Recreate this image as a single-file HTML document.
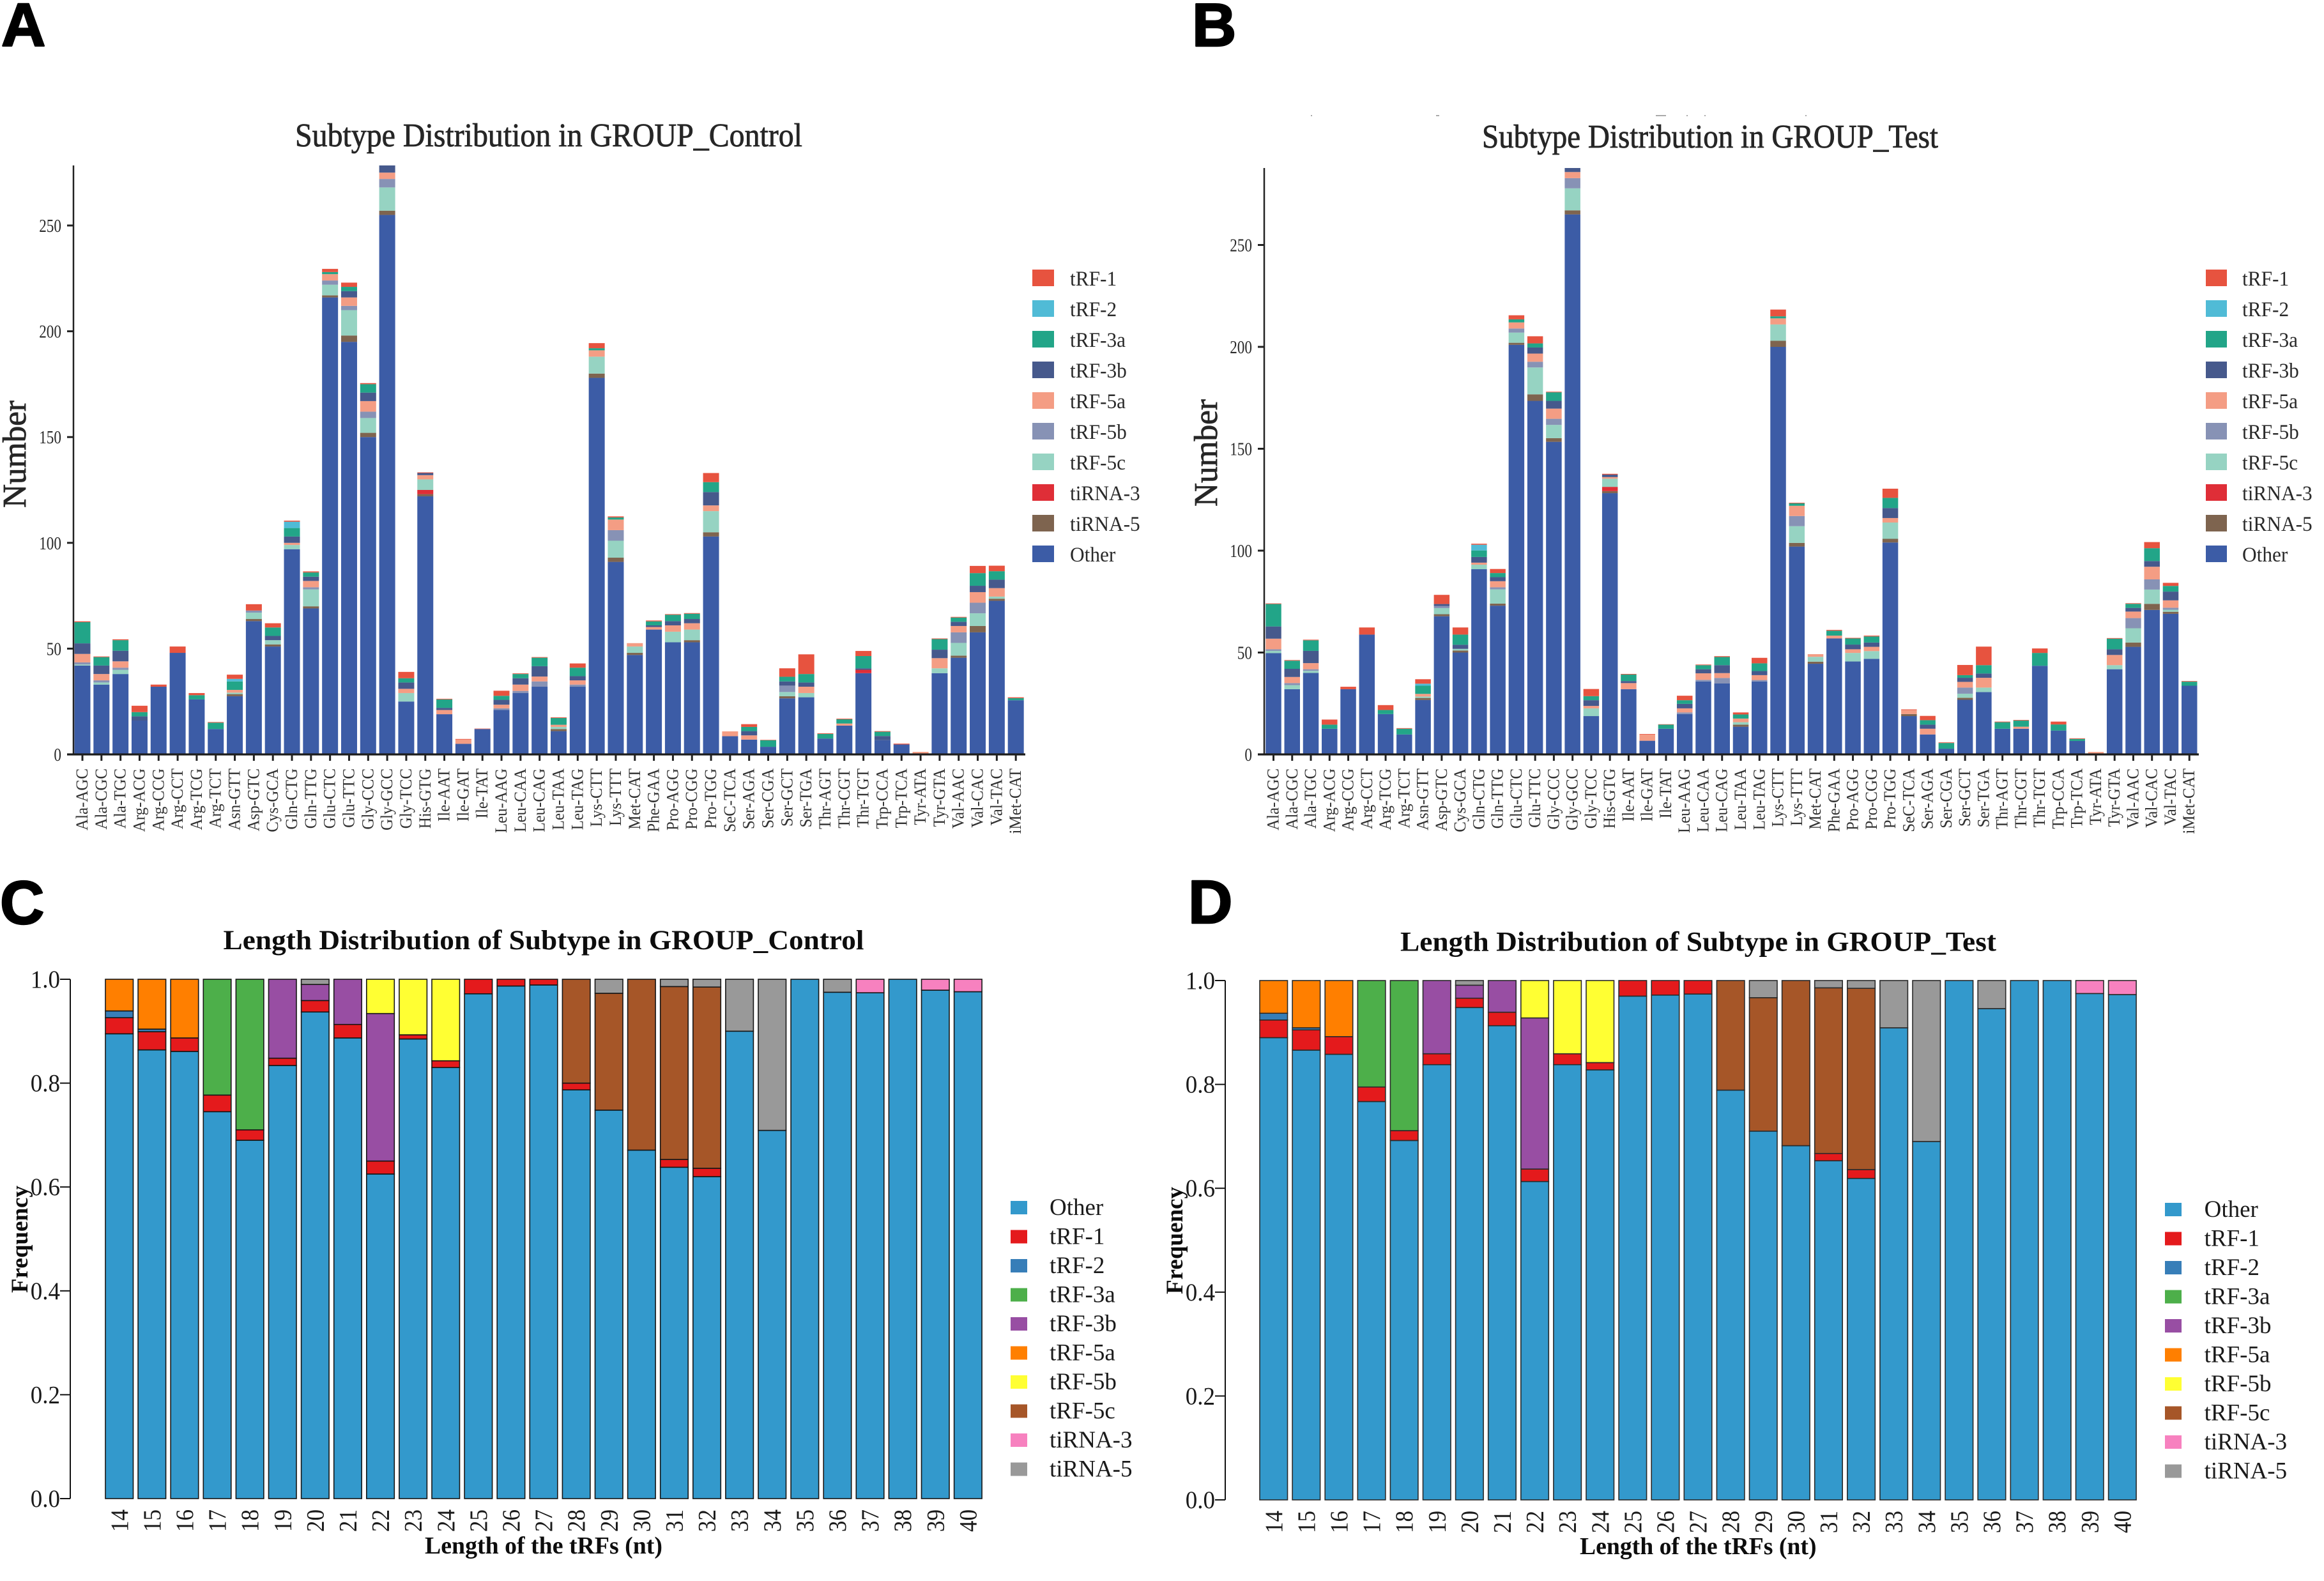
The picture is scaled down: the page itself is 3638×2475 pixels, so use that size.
<!DOCTYPE html>
<html lang="en">
<head>
<meta charset="utf-8">
<title>tRF subtype and length distribution</title>
<style>
html,body{margin:0;padding:0;background:#fff;}
svg{display:block;}
text{font-family:"Liberation Serif","Noto Serif CJK SC",serif;}
.panel-letter{font-family:"Liberation Sans","DejaVu Sans",sans-serif;font-weight:700;fill:#000;stroke:#000;stroke-width:2.5px;stroke-linejoin:round;}
</style>
</head>
<body>
<svg id="figure" xmlns="http://www.w3.org/2000/svg" width="3638" height="2475" viewBox="0 0 3638 2475">
  <rect x="0" y="0" width="3638" height="2475" fill="#ffffff"/>
  <text class="panel-letter" x="2" y="72" font-size="96">A</text>
  <text class="panel-letter" x="1866" y="72" font-size="96">B</text>
  <text class="panel-letter" x="0" y="1446" font-size="96">C</text>
  <text class="panel-letter" x="1860" y="1445" font-size="96">D</text>
  <g fill="#aaaaaa">
    <rect x="2052" y="180" width="2" height="2"/>
    <rect x="2248" y="180" width="5" height="2"/>
    <rect x="2592" y="180" width="16" height="2"/>
    <rect x="2640" y="180" width="2" height="2"/>
    <rect x="2668" y="180" width="2" height="2"/>
    <rect x="2826" y="180" width="2" height="2"/>
  </g>
  <g id="panel-a"></g>
  <g id="panel-b"></g>
  <g id="panel-c"></g>
  <g id="panel-d"></g>
</svg>
<script>
// ---------- categories and tick labels ----------
const trnaCategories = ["Ala-AGC","Ala-CGC","Ala-TGC","Arg-ACG","Arg-CCG","Arg-CCT","Arg-TCG","Arg-TCT","Asn-GTT","Asp-GTC","Cys-GCA","Gln-CTG","Gln-TTG","Glu-CTC","Glu-TTC","Gly-CCC","Gly-GCC","Gly-TCC","His-GTG","Ile-AAT","Ile-GAT","Ile-TAT","Leu-AAG","Leu-CAA","Leu-CAG","Leu-TAA","Leu-TAG","Lys-CTT","Lys-TTT","Met-CAT","Phe-GAA","Pro-AGG","Pro-CGG","Pro-TGG","SeC-TCA","Ser-AGA","Ser-CGA","Ser-GCT","Ser-TGA","Thr-AGT","Thr-CGT","Thr-TGT","Trp-CCA","Trp-TCA","Tyr-ATA","Tyr-GTA","Val-AAC","Val-CAC","Val-TAC","iMet-CAT"];
const lengthCategories = ["14","15","16","17","18","19","20","21","22","23","24","25","26","27","28","29","30","31","32","33","34","35","36","37","38","39","40"];
const countTicks = [0,50,100,150,200,250];
const freqTicks = ["0.0","0.2","0.4","0.6","0.8","1.0"];

// ---------- Panel A: subtype counts, GROUP_Control ----------
const aOther = [42,33,38,16,32,48,26,12,27.5,63,51,97,69,216,195,150,255,25,122,19,5,12,21,29,32,11,32,178,91,47,59,53,53,103,8.6,7,3.6,26.5,27,7.5,13.6,38.4,6.7,4.7,0,38.4,45.7,57.7,72.6,25.6];
const aTiRNA5 = [0,0,0,0,0,0,0,0,1,1,1,0,1,1,3,2,2,0,1,0,0,0,0,0,0,1,0,2,2,1,0,0,1,2,0,0,0,1,0,0,0,0,0,0,0,0,1,3,1,0];
const aTiRNA3 = [0,0,0,0,0,0,0,0,0,0,0,0,0,0,0,0,0,0,2,0,0,0,0,0,0,0,0,0,0,0,0,0,0,0,0,0,0,0,0,0,0,1.6,0,0,0,0,0,0,0,0];
const a5c = [0.5,1,2,0,0,0,0,0,0.7,3,2,2,8,5,12,7,11,4,5,0,0,0,0,0,0,1,0,8,8,3,0,5,5,10,0,0,0,2,2,0,0,0,0,0,0,2.3,6,6,1,0];
const a5b = [1,1,1,0,0,0,0,0,0,1,0,0,1,2,2,3,4,0,0,0,0,0,0.8,1,2.5,0,1,0,5,0,0,0,0,0,0,0,0,3,0,0,0,0,0,0,0,0,5,5,0,0];
const a5a = [4,3,3,0,0,0,0,0,1.3,0,0,1,3,3,4,5,3,2,2,2,2,0,1.7,3,2.3,1,2,3,5,1.6,1.2,3,3,2.7,2.3,2,0,0,3,0,1,0,0,0,1.2,4.8,3,5,4,0];
const a3b = [5,4,5,2,0,0,0,0,0,0,2,3,2,0,3,4,4,3,1,1,0,0,2.3,3,4.9,0,2,0,0,0,0.8,2,2,6.3,0,2,0,2,2,0,0,0.7,2,0,0,4,2,3,4,0];
const a3a = [10,4,5,2,0,0,2,3,4,0,4,4,2,1,2,4,2,2,0,4,0,0,1.9,2,4,3.2,4,1,1,0,1.9,3,2.5,4.7,0,2,3.1,2.2,4,2.2,2,5.8,2,0,0,5,2,6,4,1];
const a2 = [0,0,0,0,0,0,0,0,1.2,0,0,3,0,0,0,0,0,0,0,0,0,0,0,0,0,0,0,0,0,0,0,0,0,0,0,0,0,0,0,0,0,0,0,0,0,0,0,0,0,0];
const a1 = [0.4,0.3,0.4,3,1,3,1,0.3,2,3,2,0.5,0.5,1.5,2,0.5,2,3,0.3,0.3,0.3,0.2,2.4,0.3,0.3,0.3,2,2.4,0.5,0,0.4,0.3,0.3,4.3,0,1.3,0.2,4,9.3,0.3,0.3,2.4,0.3,0.4,0,0.3,0.3,3.4,2.6,0.4];

// ---------- Panel B: subtype counts, GROUP_Test ----------
const bOther = [49.7,32,40,12.6,32,58.8,19.8,9.8,26.7,67.8,50,90.9,73,201,173.5,153.4,265,18.8,128.2,32,6.7,12.6,19.8,35.8,34.8,13.6,35.8,200,102,44.5,56.9,45.6,46.9,104,18.8,9.8,2.8,26.8,30.6,12.6,12.6,43.5,11.7,6.6,0,41.8,52.8,70.9,69,33.7];
const bTiRNA5 = [0,0,0,0,0,0,0,0,1,1,1,0,1,1,3.2,1.8,2,0,1,0,0,0,0,0,0,1,0,3,1.8,1,0,0,0,1.8,1,0,0,1,0,0,0,0,0,0,0,0,2.1,3,1,0];
const bTiRNA3 = [0,0,0,0,0,0,0,0,0,0,0,0,0,0,0,0,0,0,2.1,0,0,0,0,0,0,0,0,0,0,0,0,0,0,0,0,0,0,0,0,0,0,0,0,0,0,0,0,0,0,0];
const b5c = [1.1,2,1,0,0,0,0,0,0.7,3,0.8,2.2,7,5,13.2,6.5,10.8,3.8,4,0,0,0,0,0,0,1.2,0,8,8.2,2.4,0,4.2,3.8,8,0,0,0,2,2.2,0,0,0,0,0,0,2,7,7,1,0];
const b5b = [0.8,1,0.8,0,0,0,0,0,0,1,0,0,1,2,2.8,3,5,0,0,0,0,0,0.8,0.8,2.7,0,0.7,0,5,0,0,0,0,0,0,0,0,3,0,0,0,0,0,0,0,0,5,5,1,0];
const b5a = [5.2,3,3,0,0,0,0,0,1.3,0,0,1,3,3,4,5,3,1.2,0.8,3,3,0,2,3.2,2.4,1.8,2.4,3,5,1.3,1.4,1.8,2.1,2.2,2,2.8,0,2.8,4.8,0,1,0,0,0,1.2,5,3.2,6.2,3.6,0];
const b3b = [6,4,6,0,0,0,0,0,0,1,2,2.8,2,0,3,3.8,2,2.8,1.2,1,0,0,2.2,2,3.9,0,2,0,0,0,0,2.3,2.1,4.9,0,2,0,2,2.1,0,0,0,0,0,0,2.8,1.8,2.8,4.3,0];
const b3a = [11,4,5.2,2,0,0,2,2.8,4,0,5,3.2,2,1.5,2,4.2,0,2,0,3.2,0,2,1.8,2,4,2,3.8,1,1.2,0,2.4,3,3,5,0,2.2,2.8,1.3,4.1,3.2,3,6.3,3,1,0,5.2,2,6.3,2.8,2];
const b2 = [0,0,0,0,0,0,0,0,1,0,0,2.8,0,0,0,0,0,0,0,0,0,0,0,0,0,0,0,0,0,0,0,0,0,0,0,0,0,0,0,0,0,0,0,0,0,0,0,0,0,0];
const b1 = [0.3,0.3,0.3,2.5,1.2,3.5,2.4,0.3,2.2,4.5,3.5,0.5,2,2,3.5,0.3,0.5,3.5,0.4,0.3,0.3,0.2,2.2,0.3,0.4,1,2.7,3.3,0.3,0,0.4,0.3,0.4,4.5,0.3,2.1,0.3,5,9.1,0.3,0.3,2.2,1.4,0.3,0,0.3,0.3,3,1.5,0.3];

// ---------- Panel C: length frequency, GROUP_Control ----------
const cOther = [0.895,0.864,0.861,0.745,0.69,0.834,0.937,0.887,0.625,0.885,0.83,0.972,0.987,0.989,0.787,0.748,0.671,0.638,0.62,0.9,0.709,1,0.975,0.974,1,0.979,0.976];
const c1 = [0.031,0.035,0.026,0.032,0.02,0.014,0.022,0.026,0.025,0.008,0.013,0.028,0.013,0.011,0.013,0,0,0.015,0.016,0,0,0,0,0,0,0,0];
const c2 = [0.013,0.005,0,0,0,0,0,0,0,0,0,0,0,0,0,0,0,0,0,0,0,0,0,0,0,0,0];
const c3a = [0,0,0,0.223,0.29,0,0,0,0,0,0,0,0,0,0,0,0,0,0,0,0,0,0,0,0,0,0];
const c3b = [0,0,0,0,0,0.152,0.031,0.087,0.284,0,0,0,0,0,0,0,0,0,0,0,0,0,0,0,0,0,0];
const c5a = [0.061,0.096,0.113,0,0,0,0,0,0,0,0,0,0,0,0,0,0,0,0,0,0,0,0,0,0,0,0];
const c5b = [0,0,0,0,0,0,0,0,0.066,0.107,0.157,0,0,0,0,0,0,0,0,0,0,0,0,0,0,0,0];
const c5c = [0,0,0,0,0,0,0,0,0,0,0,0,0,0,0.2,0.225,0.329,0.333,0.349,0,0,0,0,0,0,0,0];
const cTiRNA3 = [0,0,0,0,0,0,0,0,0,0,0,0,0,0,0,0,0,0,0,0,0,0,0,0.026,0,0.021,0.024];
const cTiRNA5 = [0,0,0,0,0,0,0.01,0,0,0,0,0,0,0,0,0.027,0,0.014,0.015,0.1,0.291,0,0.025,0,0,0,0];

// ---------- Panel D: length frequency, GROUP_Test ----------
const dOther = [0.89,0.866,0.858,0.767,0.692,0.838,0.948,0.913,0.613,0.838,0.828,0.97,0.972,0.974,0.789,0.71,0.682,0.653,0.619,0.909,0.69,1,0.946,1,1,0.975,0.973];
const d1 = [0.034,0.039,0.034,0.028,0.019,0.021,0.018,0.026,0.024,0.021,0.014,0.03,0.028,0.026,0,0,0,0.014,0.017,0,0,0,0,0,0,0,0];
const d2 = [0.013,0.004,0,0,0,0,0,0,0,0,0,0,0,0,0,0,0,0,0,0,0,0,0,0,0,0,0];
const d3a = [0,0,0,0.205,0.289,0,0,0,0,0,0,0,0,0,0,0,0,0,0,0,0,0,0,0,0,0,0];
const d3b = [0,0,0,0,0,0.141,0.025,0.061,0.291,0,0,0,0,0,0,0,0,0,0,0,0,0,0,0,0,0,0];
const d5a = [0.063,0.091,0.108,0,0,0,0,0,0,0,0,0,0,0,0,0,0,0,0,0,0,0,0,0,0,0,0];
const d5b = [0,0,0,0,0,0,0,0,0.072,0.141,0.158,0,0,0,0,0,0,0,0,0,0,0,0,0,0,0,0];
const d5c = [0,0,0,0,0,0,0,0,0,0,0,0,0,0,0.211,0.257,0.318,0.319,0.349,0,0,0,0,0,0,0,0];
const dTiRNA3 = [0,0,0,0,0,0,0,0,0,0,0,0,0,0,0,0,0,0,0,0,0,0,0,0,0,0.025,0.027];
const dTiRNA5 = [0,0,0,0,0,0,0.009,0,0,0,0,0,0,0,0,0.033,0,0.014,0.015,0.091,0.31,0,0.054,0,0,0,0];

// ---------- series names and colours ----------
const subtypeStackNames = ["Other","tiRNA-5","tiRNA-3","tRF-5c","tRF-5b","tRF-5a","tRF-3b","tRF-3a","tRF-2","tRF-1"];
const subtypeStackColors = ["#3C5CA6","#7E644F","#DF2E37","#96D3C2","#8792B5","#F49D84","#46598C","#22A588","#50BBD6","#E7533F"];
const subtypeLegendNames = ["tRF-1","tRF-2","tRF-3a","tRF-3b","tRF-5a","tRF-5b","tRF-5c","tiRNA-3","tiRNA-5","Other"];
const lengthStackNames = ["Other","tRF-1","tRF-2","tRF-3a","tRF-3b","tRF-5a","tRF-5b","tRF-5c","tiRNA-3","tiRNA-5"];
const lengthStackColors = ["#3399CC","#E41A1C","#377EB8","#4DAF4A","#984EA3","#FF7F00","#FFFF33","#A65628","#F781BF","#999999"];

const SVGNS = "http://www.w3.org/2000/svg";

function addText(parent, name, str, x, y, size, o) {
  o = o || {};
  const el = document.createElementNS(SVGNS, "text");
  
  
  el.setAttribute("transform", "translate(" + x + " " + y + ") rotate(" + (o.rotate || 0) + ") scale(" + (o.sx || 1) + " 1)");
  el.setAttribute("font-size", size);
  el.setAttribute("fill", o.fill || "#1c1c1c");
  if (o.anchor) el.setAttribute("text-anchor", o.anchor);
  if (o.bold) el.setAttribute("font-weight", "700");
  if (o.heavy) {
    el.setAttribute("stroke", o.fill || "#1c1c1c");
    el.setAttribute("stroke-width", o.heavy);
  }
  if (o.len) {
    el.setAttribute("textLength", o.len);
    el.setAttribute("lengthAdjust", "spacingAndGlyphs");
  }
  el.textContent = str;
  parent.appendChild(el);
  return el;
}

function addLine(parent, name, x1, y1, x2, y2, color, width) {
  const el = document.createElementNS(SVGNS, "line");
  
  
  el.setAttribute("x1", x1);
  el.setAttribute("y1", y1);
  el.setAttribute("x2", x2);
  el.setAttribute("y2", y2);
  el.setAttribute("stroke", color);
  el.setAttribute("stroke-width", width);
  parent.appendChild(el);
}

function addRect(parent, name, x, y, w, h, fill, stroke, sw) {
  const el = document.createElementNS(SVGNS, "rect");
  
  
  el.setAttribute("x", x);
  el.setAttribute("y", y);
  el.setAttribute("width", Math.max(w, 0));
  el.setAttribute("height", Math.max(h, 0));
  el.setAttribute("fill", fill);
  if (stroke) {
    el.setAttribute("stroke", stroke);
    el.setAttribute("stroke-width", sw);
  }
  parent.appendChild(el);
}

function drawSubtypeChart(group, L, series) {
  const xScale = i => L.x0 + i * L.step;
  const yScale = v => L.base - v * L.pxPerUnit;

  const clip = document.createElementNS(SVGNS, "clipPath");
  clip.setAttribute("id", L.id + "-clip");
  const clipRect = document.createElementNS(SVGNS, "rect");
  clipRect.setAttribute("x", L.axisX);
  clipRect.setAttribute("y", L.top);
  clipRect.setAttribute("width", 1600);
  clipRect.setAttribute("height", L.base - L.top);
  clip.appendChild(clipRect);
  group.appendChild(clip);

  const bars = document.createElementNS(SVGNS, "g");
  
  
  bars.setAttribute("clip-path", "url(#" + L.id + "-clip)");
  group.appendChild(bars);

  trnaCategories.forEach((cat, i) => {
    let cum = 0;
    series.forEach((vals, s) => {
      const v = vals[i];
      if (v > 0) {
        const yTop = yScale(cum + v);
        addRect(bars, "bar-" + cat + "-" + subtypeStackNames[s], xScale(i) - L.barW / 2, yTop, L.barW, yScale(cum) - yTop, subtypeStackColors[s]);
        cum += v;
      }
    });
  });

  // axes
  addLine(group, "y-axis-line", L.axisX, L.top, L.axisX, L.base, "#222", 2.5);
  addLine(group, "x-axis-line", L.axisX - 10, L.base, L.xEnd, L.base, "#1c1c1c", 3.2);
  countTicks.forEach(t => {
    const y = yScale(t);
    if (t > 0) addLine(group, "y-tick-" + t, L.axisX - 10, y, L.axisX, y, "#222", 3);
    addText(group, "y-tick-label-" + t, String(t), L.axisX - 19, y + 10, 29, {anchor: "end", sx: 0.8, fill: "#2a2a2a"});
  });
  trnaCategories.forEach((cat, i) => {
    const x = xScale(i);
    addLine(group, "x-tick-" + cat, x, L.base, x, L.base + 10, "#222", 3);
    addText(group, "x-tick-label-" + cat, cat, x + 8, 1203, 26, {anchor: "end", rotate: -90, sx: 0.96, fill: "#333"});
  });

  addText(group, "chart-title", L.title, L.titleX, L.titleY, 52, {len: L.titleLen, fill: "#262626", heavy: 0.8});
  addText(group, "y-axis-title", "Number", L.yTitleX, L.yTitleY, 52, {rotate: -90, len: 168, fill: "#262626", heavy: 0.8});

  subtypeLegendNames.forEach((name, k) => {
    const s = subtypeStackNames.indexOf(name);
    const y = 422 + k * 48;
    addRect(group, "legend-swatch-" + name, L.legendX, y, L.swatchW, 26, subtypeStackColors[s]);
    addText(group, "legend-label-" + name, name, L.legendTextX, y + 25, 33, {sx: 0.95, fill: "#2a2a2a"});
  });
}

function drawLengthChart(group, L, series) {
  const xScale = i => L.x0 + i * L.step;
  const yScale = v => L.base - v * (L.base - L.top);

  const bars = document.createElementNS(SVGNS, "g");
  
  
  group.appendChild(bars);

  lengthCategories.forEach((cat, i) => {
    let cum = 0;
    series.forEach((vals, s) => {
      const v = vals[i];
      if (v > 0) {
        const yTop = yScale(cum + v);
        addRect(bars, "bar-" + cat + "-" + lengthStackNames[s], xScale(i), yTop, L.barW, yScale(cum) - yTop, lengthStackColors[s], L.stroke, 1.6);
        cum += v;
      }
    });
    addText(group, "x-tick-label-" + cat, cat, xScale(i) + L.barW / 2 + 13, L.xLabelEnd, 39, {anchor: "end", rotate: -90, sx: 0.9, fill: "#1a1a1a"});
  });

  addLine(group, "y-axis-line", L.axisX, L.top, L.axisX, L.base, "#111", 2);
  freqTicks.forEach(t => {
    const y = yScale(parseFloat(t));
    addLine(group, "y-tick-" + t, L.axisX - 16, y, L.axisX, y, "#111", 2);
    addText(group, "y-tick-label-" + t, t, L.axisX - 16, y + 13, 39, {anchor: "end", sx: 0.95, fill: "#1a1a1a"});
  });

  addText(group, "chart-title", L.title, L.titleX, L.titleY, 43, {bold: true, len: L.titleLen, fill: "#0d0d0d"});
  addText(group, "x-axis-title", "Length of the tRFs (nt)", L.xTitleX, L.xTitleY, 38, {bold: true, len: L.xTitleLen, fill: "#0d0d0d"});
  addText(group, "y-axis-title", "Frequency", L.yTitleX, L.yTitleY, 37, {bold: true, rotate: -90, len: 168, fill: "#0d0d0d"});

  lengthStackNames.forEach((name, k) => {
    const y = L.legendY + k * 45.5;
    addRect(group, "legend-swatch-" + name, L.legendX, y, 26, 21, lengthStackColors[k]);
    addText(group, "legend-label-" + name, name, L.legendTextX, y + 22, 37, {fill: "#1a1a1a"});
  });
}

drawSubtypeChart(document.getElementById("panel-a"), {
  id: "panel-a", x0: 129, step: 29.82, barW: 25, base: 1181, top: 259, pxPerUnit: 3.312,
  axisX: 115, xEnd: 1605, title: "Subtype Distribution in GROUP_Control", titleX: 462, titleY: 229, titleLen: 794,
  yTitleX: 40, yTitleY: 795, legendX: 1616, swatchW: 34, legendTextX: 1675
}, [aOther,aTiRNA5,aTiRNA3,a5c,a5b,a5a,a3b,a3a,a2,a1]);

drawSubtypeChart(document.getElementById("panel-b"), {
  id: "panel-b", x0: 1993.5, step: 29.26, barW: 24.5, base: 1181, top: 263, pxPerUnit: 3.19,
  axisX: 1979, xEnd: 3442, title: "Subtype Distribution in GROUP_Test", titleX: 2320, titleY: 231, titleLen: 714,
  yTitleX: 1905, yTitleY: 793, legendX: 3453, swatchW: 33, legendTextX: 3510
}, [bOther,bTiRNA5,bTiRNA3,b5c,b5b,b5a,b3b,b3a,b2,b1]);

drawLengthChart(document.getElementById("panel-c"), {
  x0: 165, step: 51.1, barW: 43.5, base: 2346, top: 1533, axisX: 110, stroke: "#161616", xLabelEnd: 2363,
  title: "Length Distribution of Subtype in GROUP_Control", titleX: 349.5, titleY: 1486, titleLen: 1003,
  xTitleX: 665, xTitleY: 2432, xTitleLen: 372, yTitleX: 43, yTitleY: 2024,
  legendX: 1582, legendY: 1880, legendTextX: 1643
}, [cOther,c1,c2,c3a,c3b,c5a,c5b,c5c,cTiRNA3,cTiRNA5]);

drawLengthChart(document.getElementById("panel-d"), {
  x0: 1972, step: 51.1, barW: 43.5, base: 2348, top: 1535, axisX: 1918, stroke: "#2a2a2a", xLabelEnd: 2365,
  title: "Length Distribution of Subtype in GROUP_Test", titleX: 2192, titleY: 1488.5, titleLen: 933,
  xTitleX: 2473, xTitleY: 2433, xTitleLen: 370.5, yTitleX: 1851, yTitleY: 2026,
  legendX: 3389, legendY: 1883, legendTextX: 3450.6
}, [dOther,d1,d2,d3a,d3b,d5a,d5b,d5c,dTiRNA3,dTiRNA5]);
</script>
</body>
</html>
